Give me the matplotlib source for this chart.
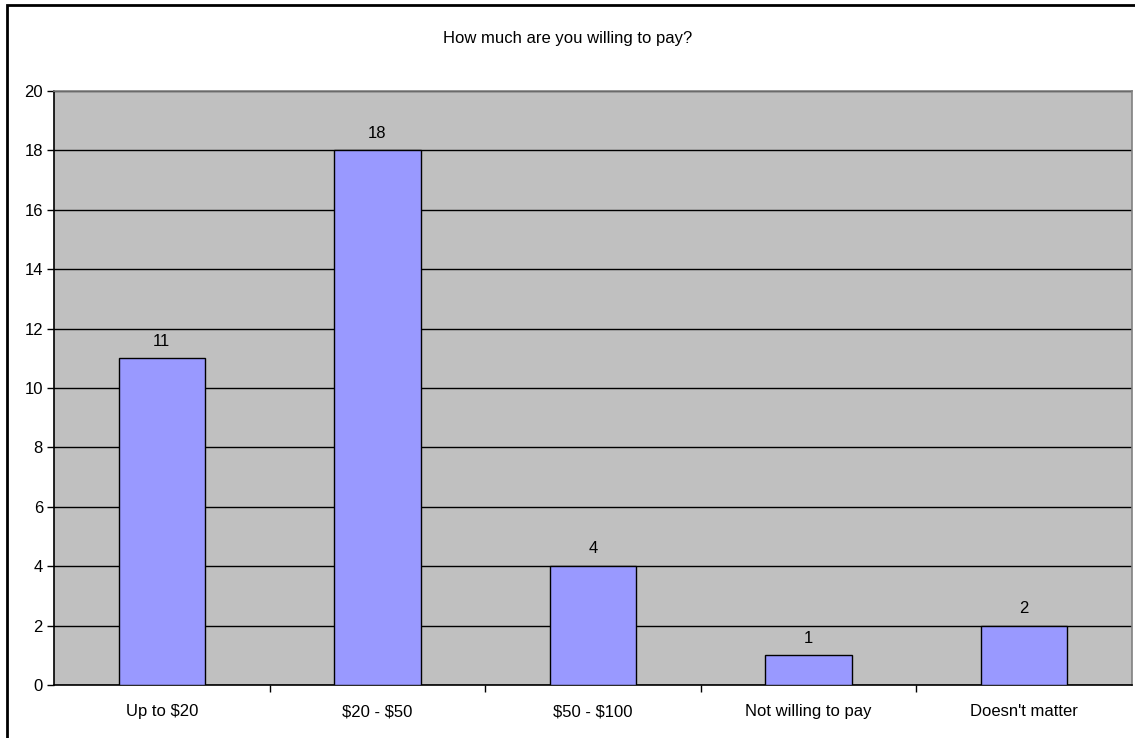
import matplotlib.pyplot as plt
from matplotlib.patches import Rectangle

categories = ['Up to $20', '$20 - $50', '$50 - $100', 'Not willing to pay', "Doesn't matter"]
counts = [11, 18, 4, 1, 2]
y_ticks = [0, 2, 4, 6, 8, 10, 12, 14, 16, 18, 20]

plt.rcParams['font.family'] = ['Liberation Sans', 'DejaVu Sans']
plt.rcParams['text.parse_math'] = False

W, H = 1135, 738
fig = plt.figure(figsize=(W / 100, H / 100), dpi=100)

# outer chart border (runs off the right and bottom edges)
fig.patches.append(Rectangle((7 / W, -0.05), 1.2, 1 - 5 / H + 0.05,
                             transform=fig.transFigure, fill=False,
                             edgecolor='black', linewidth=2))

ax = fig.add_axes([54 / W, 1 - 685 / H, (1132 - 54) / W, (685 - 91) / H])
ax.set_facecolor('#C0C0C0')

x = range(len(categories))
bars = ax.bar(x, counts, width=0.4, color='#9999FF', edgecolor='black',
              linewidth=1, zorder=3)
for b, v in zip(bars, counts):
    ax.annotate(str(v), (b.get_x() + b.get_width() / 2, v), xytext=(0, 7),
                textcoords='offset points', ha='center', va='bottom', fontsize=12)

ax.set_xlim(-0.5, len(categories) - 0.5)
ax.set_ylim(0, 20)
ax.set_yticks(y_ticks)
ax.tick_params(axis='y', labelsize=12, length=5, width=1, direction='out', pad=3)
ax.yaxis.grid(True, color='black', linewidth=1)
ax.set_axisbelow(True)

ax.set_xticks([i + 0.5 for i in range(len(categories) - 1)])
ax.set_xticklabels([])
ax.set_xticks(list(x), minor=True)
ax.set_xticklabels(categories, minor=True, fontsize=12)
ax.tick_params(axis='x', which='major', length=5, width=1, direction='out')
ax.tick_params(axis='x', which='minor', length=0, pad=14)

ax.spines['left'].set_color('black')
ax.spines['bottom'].set_color('black')
ax.spines['top'].set_color('#808080')
ax.spines['right'].set_color('#808080')
for s in ax.spines.values():
    s.set_linewidth(1.2)

fig.text(0.5, 1 - 38 / H, 'How much are you willing to pay?', ha='center',
         va='center', fontsize=12)

fig.savefig('out.png', dpi=100)
